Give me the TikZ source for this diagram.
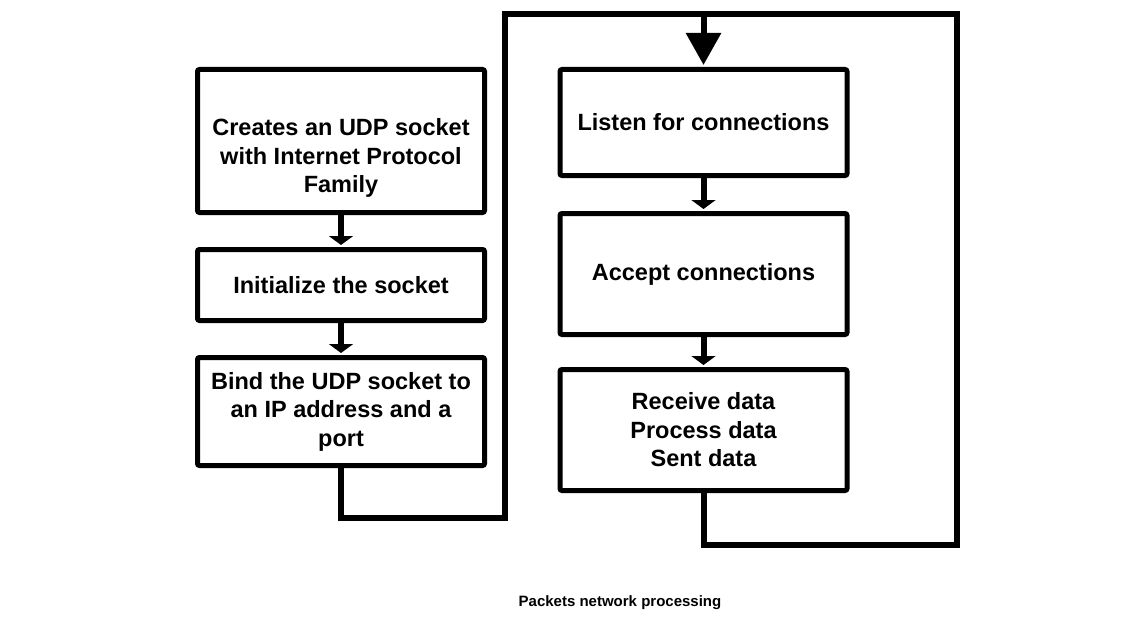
\documentclass[tikz,border=0pt]{standalone}
\usepackage{fontspec}
\setmainfont{Liberation Sans}
\usetikzlibrary{arrows.meta}
\begin{document}
\begin{tikzpicture}[x=1pt,y=-1pt,
  box/.style={draw,line width=5pt,rounded corners=2pt,inner sep=0pt},
  boxtext/.style={align=center,font=\fontsize{23.5}{28.5}\selectfont\bfseries,inner sep=0pt},
  link/.style={line width=6pt},
  smalltip/.style={-{Triangle[width=24pt,length=9pt]},shorten >=2pt},
  bigtip/.style={-{Triangle[width=34pt,length=32pt]},shorten >=2pt}]
\useasboundingbox (0,0) rectangle (1140,618);
% left column
\node[box,minimum width=287pt,minimum height=143pt] (a) at (341,141) {};
\node[boxtext] (at) at (341,158) {Creates an UDP socket\\with Internet Protocol\\Family};
\node[box,boxtext,minimum width=287pt,minimum height=71pt] (b) at (341,285) {Initialize the socket};
\node[box,boxtext,minimum width=287pt,minimum height=108pt] (c) at (341,411.5) {Bind the UDP socket to\\an IP address and a\\port};
% right column
\node[box,boxtext,minimum width=287pt,minimum height=106pt] (d) at (703.5,122.5) {Listen for connections};
\node[box,boxtext,minimum width=287pt,minimum height=121pt] (e) at (703.5,274) {Accept connections};
\node[box,boxtext,minimum width=287pt,minimum height=121pt] (f) at (703.5,430) {Receive data\\Process data\\Sent data};
% routing points
\coordinate (p1) at (505,518);
\coordinate (p2) at (505,14);
\coordinate (p3) at (957,14);
\coordinate (p4) at (957,545);
% connectors
\draw[link,smalltip] (a.south) -- (b.north);
\draw[link,smalltip] (b.south) -- (c.north);
\draw[link,smalltip] (d.south) -- (e.north);
\draw[link,smalltip] (e.south) -- (f.north);
\draw[link,bigtip] (c.south) |- (p1) -- (p2) -| (d.north);
\draw[link] (f.south) |- (p4) -- (p3) -- (p2 -| d.north);
% caption
\node[font=\fontsize{15}{18}\selectfont\bfseries] (cap) at (620,603) {Packets network processing};
\end{tikzpicture}
\end{document}
